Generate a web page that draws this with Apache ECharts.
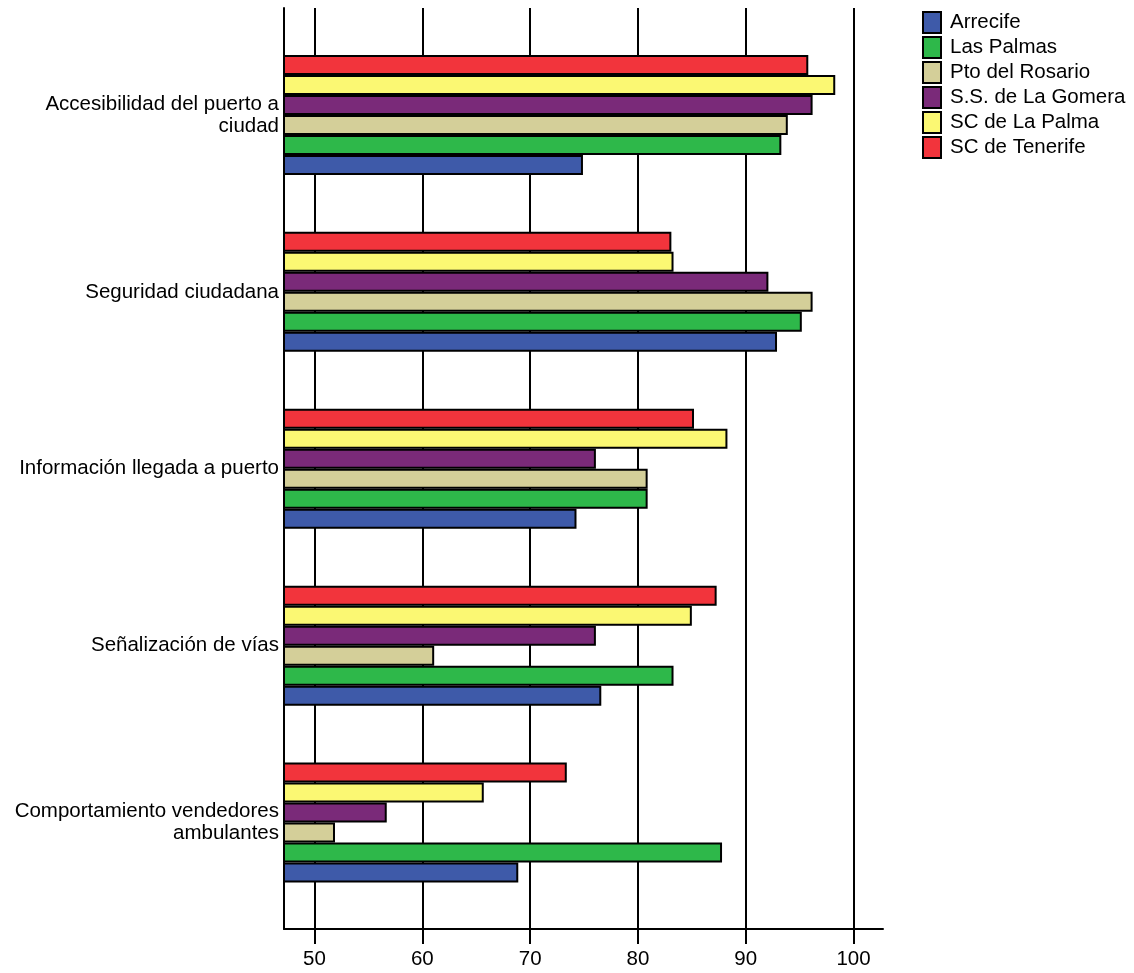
<!DOCTYPE html>
<html>
<head>
<meta charset="utf-8">
<script src="https://cdn.jsdelivr.net/npm/echarts@6/dist/echarts.min.js"></script>
<style>
  html, body { margin: 0; padding: 0; background: #fff; }
  #chart { width: 1134px; height: 973px; }
</style>
</head>
<body>
<div id="chart"></div>
<script>
var categories = [
    'Accesibilidad del puerto a\nciudad',
    'Seguridad ciudadana',
    'Información llegada a puerto',
    'Señalización de vías',
    'Comportamiento vendedores\nambulantes'
];
var seriesNames = ['Arrecife', 'Las Palmas', 'Pto del Rosario', 'S.S. de La Gomera', 'SC de La Palma', 'SC de Tenerife'];
var arrecife   = [74.9, 92.9, 74.3, 76.6, 68.9];
var lasPalmas  = [93.3, 95.2, 80.9, 83.3, 87.8];
var ptoRosario = [93.9, 96.2, 80.9, 61.1, 51.9];
var gomera     = [96.2, 92.1, 76.1, 76.1, 56.7];
var laPalma    = [98.3, 83.3, 88.3, 85.0, 65.7];
var tenerife   = [95.8, 83.1, 85.2, 87.3, 73.4];
var tickValues = [50, 60, 70, 80, 90, 100];

var colors = ['#3e5aa9', '#2eb84a', '#d4cf99', '#7a2a79', '#fbf873', '#f2343c'];
var values = [arrecife, lasPalmas, ptoRosario, gomera, laPalma, tenerife];

var xMin = 47.17, xMax = 102.73;
var font = 'Liberation Sans';

var chart = echarts.init(document.getElementById('chart'));

// bars are listed top-down inside a group: Tenerife first, Arrecife last
var series = [];
for (var i = seriesNames.length - 1; i >= 0; i--) {
    series.push({
        name: seriesNames[i],
        type: 'bar',
        xAxisIndex: 1,
        yAxisIndex: 1,
        barWidth: 20,
        barGap: '0%',
        itemStyle: {
            color: colors[i],
            borderColor: '#000',
            borderWidth: 2
        },
        data: values[i]
    });
}

chart.setOption({
    animation: false,
    legend: {
        data: seriesNames,
        orient: 'vertical',
        left: 917,
        top: 6,
        itemWidth: 18,
        itemHeight: 21,
        itemGap: 2,
        icon: 'rect',
        textStyle: { fontFamily: font, fontSize: 20.5, lineHeight: 21, color: '#000', padding: [0, 0, 0, 4] }
    },
    grid: [
        { left: 284, right: 251, top: 8, bottom: 44 },
        { left: 284, right: 251, top: 26.5, bottom: 62 }
    ],
    xAxis: [
        {
            type: 'value', gridIndex: 0, min: xMin, max: xMax,
            axisLine: { show: true, lineStyle: { color: '#000', width: 2 } },
            axisTick: { show: true, length: 15, customValues: tickValues, lineStyle: { color: '#000', width: 2 } },
            axisLabel: { customValues: tickValues, fontFamily: font, fontSize: 20.5, color: '#000', margin: 20 },
            splitLine: { show: true, lineStyle: { color: '#000', width: 2 } }
        },
        {
            type: 'value', gridIndex: 1, min: xMin, max: xMax, show: false,
            splitLine: { show: false }
        }
    ],
    yAxis: [
        {
            type: 'value', gridIndex: 0, min: 0, max: 1, z: 10,
            axisLine: { show: true, lineStyle: { color: '#000', width: 2 } },
            axisTick: { show: false }, axisLabel: { show: false }, splitLine: { show: false }
        },
        {
            type: 'category', gridIndex: 1, inverse: true, data: categories,
            axisLine: { show: false }, axisTick: { show: false },
            axisLabel: { fontFamily: font, fontSize: 20.5, lineHeight: 22, color: '#000', margin: 5, align: 'right' }
        }
    ],
    series: series
});
</script>
</body>
</html>
